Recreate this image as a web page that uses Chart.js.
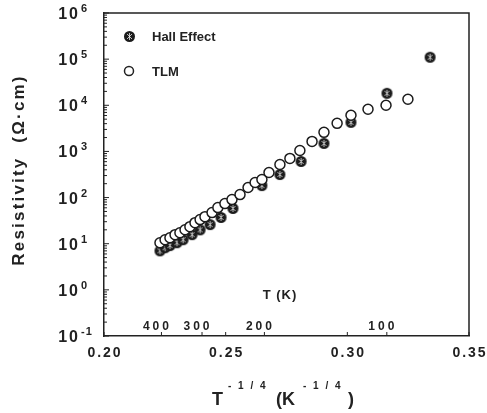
<!DOCTYPE html>
<html>
<head>
<meta charset="utf-8">
<script src="https://cdn.jsdelivr.net/npm/chart.js@4.4.0/dist/chart.umd.min.js"></script>
<style>
html, body { margin: 0; padding: 0; background: #fff; }
#wrap { width: 487px; height: 413px; }
</style>
</head>
<body>
<div id="wrap"><canvas id="resChart" width="487" height="413"></canvas></div>
<script>
// Hall effect points: T^-1/4 and resistivity (ohm cm)
const hallX = [0.2230, 0.2251, 0.2271, 0.2300, 0.2325, 0.2362, 0.2395, 0.2436, 0.2481, 0.2530,
               0.2649, 0.2723, 0.2810, 0.2904, 0.3015, 0.3163, 0.3340];
const hallY = [7.0, 8.2, 9.1, 10.5, 12.2, 15.7, 20, 26, 37, 58,
               182, 316, 606, 1490, 4270, 18200, 110000];

// TLM points
const tlmX = [0.2230, 0.2251, 0.2271, 0.2292, 0.2312, 0.2333, 0.2353, 0.2374, 0.2395, 0.2415,
              0.2444, 0.2468, 0.2497, 0.2526, 0.2559, 0.2592, 0.2621, 0.2649, 0.2678, 0.2723,
              0.2764, 0.2805, 0.2855, 0.2904, 0.2958, 0.3015, 0.3085, 0.3159, 0.3249];
const tlmY = [10.5, 12.2, 13.5, 15.7, 17.3, 20.1, 23.4, 28.6, 33.3, 38.6,
              47.2, 60.7, 74, 90.5, 116, 165, 212, 246, 349, 522,
              705, 1050, 1650, 2590, 4060, 6070, 8190, 10000, 13500];

const xTickLabels = ['0.20', '0.25', '0.30', '0.35'];
const yDecades = [-1, 0, 1, 2, 3, 4, 5, 6];
const tempTicks = [400, 300, 200, 100];

const ink = '#222';
const fontFam = '"Liberation Sans", Arial, sans-serif';

function hallMarker() {
    const c = document.createElement('canvas');
    c.width = 13;
    c.height = 13;
    const g = c.getContext('2d');
    g.fillStyle = '#1c1c1c';
    g.beginPath();
    g.arc(6.5, 6.5, 5.5, 0, Math.PI * 2);
    g.fill();
    g.strokeStyle = 'rgba(255,255,255,0.7)';
    g.lineWidth = 1;
    g.beginPath();
    g.moveTo(4, 4); g.lineTo(9, 9);
    g.moveTo(9, 4); g.lineTo(4, 9);
    g.moveTo(6.5, 3); g.lineTo(6.5, 10);
    g.stroke();
    return c;
}
const hallImg = hallMarker();

const decorPlugin = {
    id: 'decor',
    afterDraw(chart) {
        const ctx = chart.ctx;
        const area = chart.chartArea;
        const xs = chart.scales.x;
        const ys = chart.scales.y;
        ctx.save();
        ctx.strokeStyle = ink;
        ctx.fillStyle = ink;

        // frame top and right
        ctx.lineWidth = 1.5;
        ctx.beginPath();
        ctx.moveTo(area.left, area.top);
        ctx.lineTo(area.right, area.top);
        ctx.lineTo(area.right, area.bottom);
        ctx.stroke();

        // y ticks (major + minor), inward
        ctx.lineWidth = 1;
        ctx.beginPath();
        yDecades.forEach(e => {
            const py = ys.getPixelForValue(Math.pow(10, e));
            ctx.moveTo(area.left, py);
            ctx.lineTo(area.left + 5, py);
            if (e < 6) {
                for (let k = 2; k <= 9; k++) {
                    const pm = ys.getPixelForValue(k * Math.pow(10, e));
                    ctx.moveTo(area.left, pm);
                    ctx.lineTo(area.left + 3, pm);
                }
            }
        });
        // x ticks
        xTickLabels.forEach(t => {
            const px = xs.getPixelForValue(parseFloat(t));
            ctx.moveTo(px, area.bottom);
            ctx.lineTo(px, area.bottom - 4);
        });
        tempTicks.forEach(T => {
            const px = xs.getPixelForValue(Math.pow(T, -0.25));
            ctx.moveTo(px, area.bottom);
            ctx.lineTo(px, area.bottom - 4);
        });
        ctx.stroke();

        // y tick labels with superscripts
        yDecades.forEach(e => {
            const py = ys.getPixelForValue(Math.pow(10, e));
            ctx.letterSpacing = '2px';
            ctx.font = 'bold 16px ' + fontFam;
            ctx.textAlign = 'right';
            ctx.textBaseline = 'alphabetic';
            ctx.fillText('10', area.left - 24, py + 6);
            ctx.letterSpacing = '1px';
            ctx.font = 'bold 11px ' + fontFam;
            ctx.textAlign = 'left';
            ctx.fillText(String(e), area.left - 23, py - 1);
        });

        // x tick labels
        ctx.letterSpacing = '2px';
        ctx.font = 'bold 14px ' + fontFam;
        ctx.textAlign = 'center';
        ctx.textBaseline = 'middle';
        xTickLabels.forEach(t => {
            const px = xs.getPixelForValue(parseFloat(t));
            ctx.fillText(t, px + 1, area.bottom + 17);
        });

        // temperature labels inside the plot
        ctx.letterSpacing = '3px';
        ctx.font = 'bold 12px ' + fontFam;
        tempTicks.forEach(T => {
            const px = xs.getPixelForValue(Math.pow(T, -0.25));
            ctx.fillText(String(T), px - 4, area.bottom - 9);
        });
        ctx.letterSpacing = '1px';
        ctx.font = 'bold 13px ' + fontFam;
        ctx.fillText('T (K)', 280, area.bottom - 41);

        // x title with superscripts
        ctx.textAlign = 'left';
        ctx.textBaseline = 'alphabetic';
        ctx.letterSpacing = '0px';
        ctx.font = 'bold 18px ' + fontFam;
        ctx.fillText('T', 212, 405);
        ctx.fillText('(K', 276, 405);
        ctx.fillText(')', 348, 405);
        ctx.letterSpacing = '2px';
        ctx.font = 'bold 10px ' + fontFam;
        ctx.fillText('- 1 / 4', 228, 389);
        ctx.fillText('- 1 / 4', 303, 389);

        // y title
        ctx.save();
        ctx.translate(19, 170);
        ctx.rotate(-Math.PI / 2);
        ctx.textAlign = 'center';
        ctx.textBaseline = 'middle';
        ctx.letterSpacing = '2.2px';
        ctx.font = 'bold 17px ' + fontFam;
        ctx.fillText('Resistivity  (\u03A9\u00B7cm)', 0, 0);
        ctx.restore();

        // legend
        ctx.letterSpacing = '0px';
        ctx.font = 'bold 13px ' + fontFam;
        ctx.textAlign = 'left';
        ctx.textBaseline = 'middle';
        ctx.drawImage(hallImg, 123, 30);
        ctx.fillText('Hall Effect', 152, 37);
        ctx.lineWidth = 1.5;
        ctx.beginPath();
        ctx.arc(129, 71, 4.5, 0, Math.PI * 2);
        ctx.stroke();
        ctx.fillText('TLM', 152, 72);

        ctx.restore();
    }
};

const ctx = document.getElementById('resChart').getContext('2d');
const resChart = new Chart(ctx, {
    type: 'scatter',
    data: {
        datasets: [
            {
                label: 'TLM',
                data: tlmX.map((x, i) => ({ x: x, y: tlmY[i] })),
                pointStyle: 'circle',
                pointRadius: 5,
                borderColor: '#1c1c1c',
                backgroundColor: '#fff',
                borderWidth: 1.5,
            },
            {
                label: 'Hall Effect',
                data: hallX.map((x, i) => ({ x: x, y: hallY[i] })),
                pointStyle: hallImg,
                pointRadius: 5,
            },
        ],
    },
    options: {
        responsive: false,
        animation: false,
        devicePixelRatio: 1,
        layout: { padding: { left: 104, right: 18, top: 13, bottom: 77 } },
        plugins: {
            legend: { display: false },
            tooltip: { enabled: false },
        },
        scales: {
            x: {
                type: 'linear',
                min: 0.2,
                max: 0.35,
                ticks: { display: false },
                grid: { display: false, drawTicks: false },
                border: { display: true, color: ink, width: 1.5 },
            },
            y: {
                type: 'logarithmic',
                min: 0.1,
                max: 1e6,
                ticks: { display: false },
                grid: { display: false, drawTicks: false },
                border: { display: true, color: ink, width: 1.5 },
            },
        },
    },
    plugins: [decorPlugin],
});
</script>
</body>
</html>
